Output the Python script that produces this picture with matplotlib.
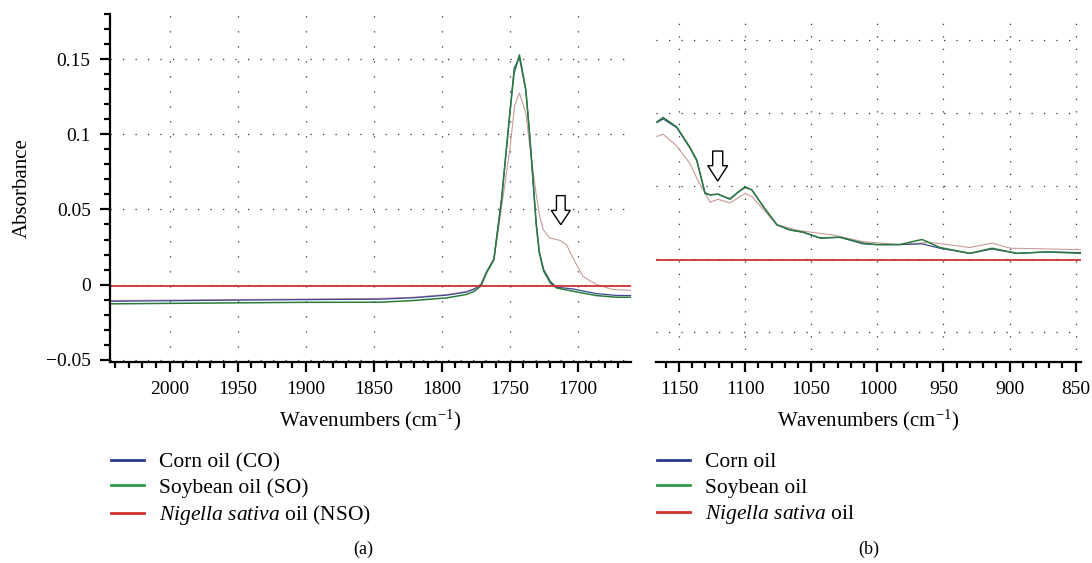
import numpy as np
import matplotlib.pyplot as plt
from matplotlib.lines import Line2D
from matplotlib.patches import FancyArrow
from matplotlib.ticker import MultipleLocator, FuncFormatter

plt.rcParams['font.family'] = ['Liberation Serif', 'DejaVu Serif']
plt.rcParams['mathtext.fontset'] = 'custom'
plt.rcParams['mathtext.rm'] = 'Liberation Serif'
plt.rcParams['mathtext.it'] = 'Liberation Serif:italic'

# ---- panel (a): carbonyl region ----
wn_a = [2043.6, 1960, 1900, 1845, 1821, 1796, 1782, 1776, 1771, 1767, 1761.6, 1756, 1749.9,
        1746.7, 1742.8, 1738.1, 1735.2, 1732.5, 1730.5, 1728.2, 1725, 1720, 1715.6, 1703.4,
        1686.2, 1671.5, 1661]
so_a = [-0.0128, -0.0122, -0.0118, -0.0117, -0.0106, -0.0088, -0.0066, -0.0045, -0.0008, 0.0078,
        0.0166, 0.0565, 0.114, 0.1408, 0.1529, 0.1297, 0.0986, 0.065, 0.04, 0.021, 0.009, 0.001,
        -0.0022, -0.0044, -0.0073, -0.0084, -0.0084]
co_a = [-0.0111, -0.0104, -0.0100, -0.0097, -0.0088, -0.0070, -0.0050, -0.0030, 0.0002, 0.0085,
        0.0170, 0.0560, 0.1130, 0.1440, 0.1510, 0.1290, 0.0990, 0.0660, 0.0410, 0.0220, 0.0100,
        0.0020, -0.0017, -0.0029, -0.0060, -0.0072, -0.0073]
wn_nso_a = [2043.6, 1960, 1900, 1845, 1821, 1796, 1782, 1776, 1771, 1767, 1761.6, 1754.8, 1749.9,
            1746.2, 1742.8, 1738.1, 1735.2, 1730.3, 1727.9, 1725.4, 1720.5, 1713.2, 1708.3,
            1702.2, 1696.1, 1686.2, 1674, 1661]
nso_a = [-0.0106, -0.0100, -0.0096, -0.0092, -0.0084, -0.0066, -0.0046, -0.0028, 0.0003, 0.0080,
         0.0160, 0.0587, 0.0898, 0.1197, 0.1275, 0.1142, 0.092, 0.0587, 0.0454, 0.0366, 0.031,
         0.0295, 0.0266, 0.0155, 0.0055, 0.0, -0.0033, -0.0038]
nso_line_a = -0.0011
arrow_a = (1712.4, 0.0592, 0.0399)   # x, top, tip

# ---- panel (b): fingerprint region ----
wn_b = [1166.6, 1162, 1151.7, 1141.7, 1136.6, 1130.3, 1126.5, 1120.5, 1115.2, 1111.4, 1105.1,
        1100, 1095, 1086.2, 1075.9, 1066, 1056.2, 1043.3, 1028.2, 1010.8, 1000.6, 983.2, 966.2,
        952.6, 930, 913.3, 894.4, 871.6, 846]
so_b = [0.0188, 0.0194, 0.0181, 0.0153, 0.0136, 0.0090, 0.0088, 0.0089, 0.0085, 0.0082, 0.0092,
        0.0099, 0.0095, 0.0072, 0.0047, 0.0040, 0.0037, 0.0029, 0.0030, 0.0022, 0.0020, 0.0020,
        0.0027, 0.0016, 0.0008, 0.0015, 0.0008, 0.0010, 0.0008]
co_b = [0.0187, 0.0192, 0.0180, 0.0152, 0.0135, 0.0091, 0.0088, 0.0089, 0.0085, 0.0083, 0.0092,
        0.0098, 0.0095, 0.0072, 0.0047, 0.0040, 0.0037, 0.0029, 0.0030, 0.0021, 0.0020, 0.0020,
        0.0021, 0.0015, 0.0008, 0.0014, 0.0008, 0.0010, 0.0009]
wn_nso_b = [1166.6, 1162, 1151.7, 1141.7, 1136.6, 1126.5, 1120.5, 1111.4, 1100, 1095, 1075.9,
            1058.7, 1033.3, 1010.8, 983.2, 960.1, 930, 913.3, 899.4, 871.6, 846]
nso_b = [0.0168, 0.0171, 0.0155, 0.0131, 0.0111, 0.0078, 0.0082, 0.0077, 0.0090, 0.0086, 0.0047,
         0.0039, 0.0033, 0.0024, 0.0020, 0.0023, 0.0016, 0.0022, 0.0015, 0.0014, 0.0013]
nso_line_b = -0.00014
arrow_b = (1120.7, 0.0148, 0.0107)

labels_a = ['Corn oil (CO)', 'Soybean oil (SO)', r'$\it{Nigella\ sativa}$ oil (NSO)']
labels_b = ['Corn oil', 'Soybean oil', r'$\it{Nigella\ sativa}$ oil']

c_blue, c_green, c_red, c_pink = '#3b4796', '#2b7c3c', '#cf3232', '#c99a98'
leg_colors = ['#2b3990', '#2e9a47', '#d0312d']

fig = plt.figure(figsize=(10.92, 5.63), dpi=100)
ax1 = fig.add_axes([0.1009, 0.357, 0.4767, 0.618])
ax2 = fig.add_axes([0.6007, 0.357, 0.3892, 0.620])

for ax in (ax1, ax2):
    for s in ('top', 'right'):
        ax.spines[s].set_visible(False)
    ax.spines['bottom'].set_linewidth(1.6)
    ax.spines['left'].set_linewidth(1.6)
    ax.tick_params(which='major', direction='out', length=7, width=1.6, labelsize=14, pad=7)
    ax.tick_params(which='minor', direction='out', length=4, width=1.6)

# panel a
ax1.plot(wn_nso_a, nso_a, color=c_pink, lw=0.8)
ax1.plot(wn_a, co_a, color=c_blue, lw=0.9)
ax1.plot(wn_a, so_a, color=c_green, lw=1.1)
ax1.axhline(nso_line_a, color=c_red, lw=1.3)
ax1.set_xlim(2043.6, 1661)
ax1.set_ylim(-0.0515, 0.18)
ax1.xaxis.set_major_locator(MultipleLocator(50))
ax1.xaxis.set_minor_locator(MultipleLocator(10))
ax1.yaxis.set_major_locator(MultipleLocator(0.05))
ax1.yaxis.set_minor_locator(MultipleLocator(0.01))
ax1.yaxis.set_major_formatter(FuncFormatter(lambda v, p: ('%g' % round(v, 3)).replace('-', '\u2212')))
ax1.xaxis.grid(True, color='#333333', lw=0.9, ls=(0, (1, 11)))
ax1.yaxis.grid(True, color='#333333', lw=0.9, ls=(0, (1, 9)))
ax1.set_axisbelow(True)
ax1.set_ylabel('Absorbance', fontsize=15, labelpad=10)
ax1.set_xlabel(r'Wavenumbers (cm$^{-1}$)', fontsize=15, labelpad=7)
ax1.add_patch(FancyArrow(arrow_a[0], arrow_a[1], 0, arrow_a[2] - arrow_a[1], width=6.4,
                         head_width=14, head_length=0.0095, length_includes_head=True,
                         fc='white', ec='black', lw=1.0, zorder=5))

# panel b
ax2.plot(wn_nso_b, nso_b, color=c_pink, lw=0.8)
ax2.plot(wn_b, co_b, color=c_blue, lw=0.9)
ax2.plot(wn_b, so_b, color=c_green, lw=1.1)
ax2.axhline(nso_line_b, color=c_red, lw=1.3)
ax2.set_xlim(1167.4, 846)
ax2.set_ylim(-0.01407, 0.0337)
ax2.spines['left'].set_visible(False)
ax2.xaxis.set_major_locator(MultipleLocator(50))
ax2.xaxis.set_minor_locator(MultipleLocator(10))
ax2.yaxis.set_major_locator(MultipleLocator(0.01))
ax2.tick_params(axis='y', which='both', left=False, labelleft=False)
ax2.xaxis.grid(True, color='#333333', lw=0.9, ls=(0, (1, 9)))
ax2.yaxis.grid(True, color='#333333', lw=0.9, ls=(0, (1, 9)))
ax2.set_axisbelow(True)
ax2.set_xlabel(r'Wavenumbers (cm$^{-1}$)', fontsize=15, labelpad=7)
ax2.add_patch(FancyArrow(arrow_b[0], arrow_b[1], 0, arrow_b[2] - arrow_b[1], width=7.6,
                         head_width=15, head_length=0.0021, length_includes_head=True,
                         fc='white', ec='black', lw=1.0, zorder=5))

# legends
handles = [Line2D([], [], color=c, lw=2) for c in leg_colors]
for labels, x0 in ((labels_a, 0.1015), (labels_b, 0.6015)):
    fig.legend(handles, labels, loc='upper left', bbox_to_anchor=(x0, 0.197), frameon=False,
               fontsize=15.5, handlelength=1.55, handletextpad=0.7, labelspacing=0.26,
               borderaxespad=0, borderpad=0)

fig.text(363 / 1092, 1 - 549 / 563, '(a)', ha='center', va='center', fontsize=13)
fig.text(869 / 1092, 1 - 549 / 563, '(b)', ha='center', va='center', fontsize=13)

fig.savefig('out.png', dpi=100)
